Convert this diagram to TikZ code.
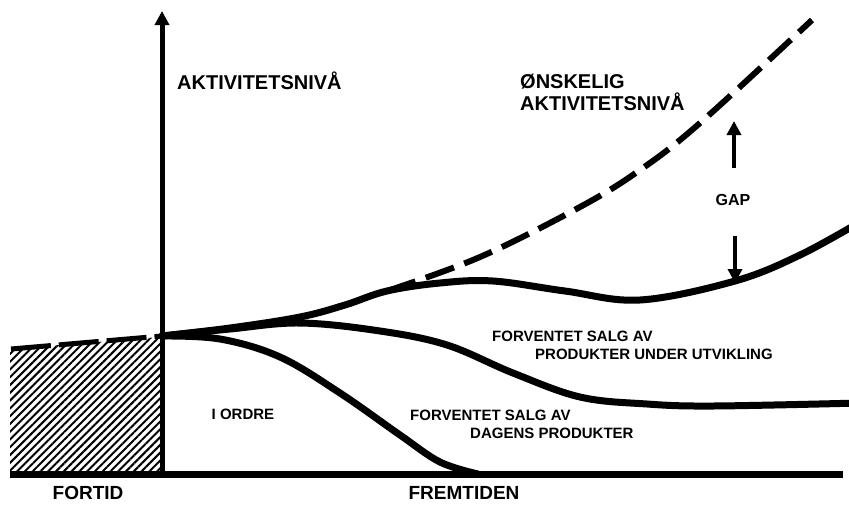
\documentclass[tikz,border=0pt]{standalone}
\usepackage{fontspec}
\setmainfont{Liberation Sans}
\usetikzlibrary{arrows.meta, patterns.meta}

\begin{document}
\begin{tikzpicture}[x=1pt, y=-1pt, >={Triangle[length=14pt, width=14pt]},
    curve/.style={line width=7pt, line cap=round},
    wish/.style={line width=6pt, dash pattern=on 30pt off 11pt},
    lbl/.style={inner sep=0pt, align=left, font=\bfseries\fontsize{15}{18}\selectfont},
    biglbl/.style={inner sep=0pt, align=left, font=\bfseries\fontsize{20}{22}\selectfont}]
  \fill[white] (0,0) rectangle (849,504);
  \useasboundingbox (0,0) rectangle (849,504);
  % fixed points
  \coordinate (o) at (162,336);
  \coordinate (top) at (162,11);
  \coordinate (foot) at (162,474);
  \coordinate (left) at (10,474);
  \coordinate (right) at (843,474);
  \coordinate (past) at (11,349);
  \coordinate (fork) at (387,291);
  \coordinate (gapuptip) at (734,121);
  \coordinate (gapupend) at (734,168);
  \coordinate (gapdowntip) at (735,283);
  \coordinate (gapdownend) at (735,236);
  % past
  \fill[pattern={Lines[angle=45, distance=5.5pt, line width=2pt]}]
    (10,349) -- (160,337) -- (160,474) -- (10,474) -- cycle;
  \draw[line width=5pt, dash pattern=on 40pt off 8pt] (past) -- (o);
  % axes
  \draw[line width=7pt] (left) -- (right);
  \draw[line width=5pt, ->] (foot) -- (top);
  % curves
  \draw[curve] plot[smooth, tension=0.6] coordinates {(o) (230,328) (300,317)
    (345,305) (fork) (440,283) (493,281) (565,291) (640,300) (735,281) (800,255) (860,222)};
  \draw[wish] plot[smooth, tension=0.6] coordinates {(fork) (480,257) (580,207)
    (640,170) (700,123) (812,20)};
  \draw[curve] plot[smooth, tension=0.6] coordinates {(o) (230,329) (300,323)
    (380,331) (447,345) (513,373) (580,397) (647,404) (713,406) (860,403)};
  \draw[curve] plot[smooth, tension=0.6] coordinates {(o) (220,339) (280,357)
    (340,393) (400,435) (440,462) (478,474)};
  % gap
  \draw[line width=4pt, ->] (gapupend) -- (gapuptip);
  \draw[line width=4pt, ->] (gapdownend) -- (gapdowntip);
  % labels
  \node[biglbl, anchor=west] (level) at (177,81) {AKTIVITETSNIVÅ};
  \node[biglbl, anchor=north west] (wanted) at (520,74) {ØNSKELIG\\AKTIVITETSNIVÅ};
  \node[lbl, font=\bfseries\fontsize{16}{18}\selectfont] (gap) at (733,200) {GAP};
  \node[lbl, anchor=north west] (newprod) at (492,331)
    {FORVENTET SALG AV\\\hspace*{43pt}PRODUKTER UNDER UTVIKLING};
  \node[lbl, anchor=north west] (oldprod) at (410,410)
    {FORVENTET SALG AV\\\hspace*{60pt}DAGENS PRODUKTER};
  \node[lbl] (orders) at (243,414) {I ORDRE};
  \node[biglbl, font=\bfseries\fontsize{19}{22}\selectfont] (fortid) at (88,493) {FORTID};
  \node[biglbl, font=\bfseries\fontsize{19}{22}\selectfont] (fremtid) at (464,493) {FREMTIDEN};
\end{tikzpicture}
\end{document}
